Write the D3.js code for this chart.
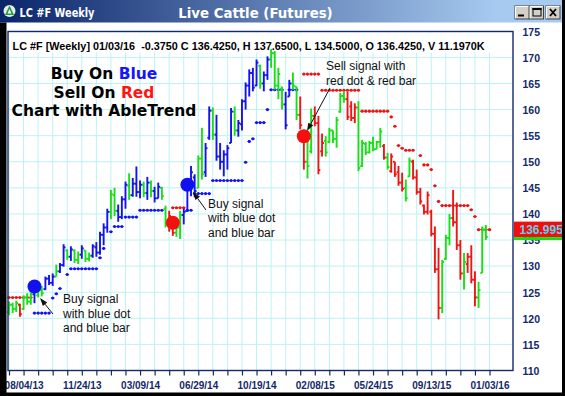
<!DOCTYPE html>
<html><head><meta charset="utf-8">
<script src="https://cdn.jsdelivr.net/npm/d3@7/dist/d3.min.js"></script>
<style>html,body{margin:0;padding:0;background:#fff;overflow:hidden}svg{display:block}</style>
</head><body><svg id="c" width="565" height="396"></svg>
<script>
// ---------------- DATA ----------------
const dateLabels = ["08/04/13","11/24/13","03/09/14","06/29/14","10/19/14","02/08/15","05/24/15","09/13/15","01/03/16"];
const dateLabelIdx = [4,20,36,52,68,84,100,116,132];
const priceTicks = [110,115,120,125,130,135,140,145,150,155,160,165,170,175];
const opens = [121.2,122.6,121.8,122.6,121.8,124.0,123.2,124.6,124.4,125.4,125.6,127.6,126.8,128.0,129.0,130.2,133.0,131.8,133.0,131.2,
132.2,133.0,131.4,132.0,133.6,132.6,136.0,137.4,140.4,143.6,140.6,139.4,142.8,145.4,143.6,145.8,144.2,145.6,144.0,146.0,
144.4,143.0,145.0,141.0,138.0,139.0,136.4,137.4,139.8,140.6,145.0,147.0,145.0,150.6,148.0,154.6,159.8,155.2,151.0,150.0,
151.4,153.6,159.6,156.0,157.2,161.6,164.6,167.0,164.6,168.4,165.0,166.6,169.6,170.8,164.6,164.0,161.0,162.5,165.0,164.4,
159.0,155.2,150.0,152.0,158.8,157.4,152.0,154.0,153.8,156.0,154.4,159.6,162.6,162.0,160.6,158.4,160.4,149.2,153.4,151.8,
153.6,152.4,153.8,153.0,150.8,148.2,150.0,148.0,146.0,145.0,147.2,150.0,147.0,144.2,141.6,140.4,140.4,136.2,129.4,122.0,
131.4,135.4,139.2,138.4,134.0,128.6,130.4,131.8,127.4,124.0,128.7,137.0,136.425];
const highs = [123.2,123.0,123.4,122.8,124.4,124.8,125.0,126.6,125.9,126.2,128.0,128.3,128.6,130.3,130.6,134.2,133.2,133.8,133.2,132.8,
134.0,133.0,132.6,134.2,134.6,136.6,138.2,141.0,144.6,145.0,141.8,143.4,146.2,147.8,146.9,149.1,146.4,146.2,147.1,146.4,
145.2,146.0,145.2,141.6,140.6,139.0,139.0,140.6,141.0,145.6,149.2,147.6,151.2,156.5,153.6,160.6,160.4,159.0,153.6,152.2,
153.2,160.3,160.6,158.0,162.0,165.2,167.7,168.0,169.6,168.6,167.3,170.2,171.6,171.2,168.0,164.4,163.4,165.7,167.1,164.4,
162.5,155.5,154.9,160.2,160.6,158.8,155.4,154.9,156.5,156.0,158.6,163.2,163.4,163.4,161.6,161.2,161.6,154.2,153.8,154.0,
154.8,154.0,156.5,153.4,151.7,151.6,150.0,149.2,147.9,146.6,150.8,150.4,148.5,145.0,141.8,144.3,140.8,137.6,133.5,131.2,
136.0,140.0,144.6,142.2,135.0,132.5,132.5,134.0,129.0,127.0,137.6,137.9,137.65];
const lows = [120.6,121.0,121.2,120.3,121.6,122.6,122.6,122.9,124.0,124.2,125.4,126.4,126.2,128.0,128.7,129.9,131.2,131.0,130.6,130.4,
131.4,130.8,130.9,131.6,131.8,132.2,134.0,136.4,139.0,139.6,138.5,139.0,141.0,142.7,143.3,143.3,143.0,143.2,142.7,143.2,
142.2,143.0,142.7,137.4,136.6,135.8,135.6,135.2,138.0,140.4,143.4,143.2,145.0,146.6,147.1,154.2,154.2,150.2,148.5,147.2,
148.5,153.6,155.0,154.8,156.0,160.0,162.5,163.5,164.5,164.0,163.5,165.7,168.0,163.8,162.0,160.0,156.2,162.5,163.8,158.0,
156.2,148.5,146.8,151.6,156.8,147.6,151.0,151.0,153.6,153.6,152.7,159.4,161.3,158.0,157.8,157.4,148.2,149.0,151.3,151.6,
152.0,152.4,152.7,150.4,148.5,147.9,147.1,145.4,144.3,142.4,147.1,146.6,143.7,141.8,139.9,139.9,135.7,128.7,119.8,121.0,
131.2,134.0,137.6,133.1,127.4,125.5,128.7,126.7,122.3,122.0,128.7,135.0,134.5];
const closes = [122.6,121.8,122.9,120.8,124.0,123.2,124.6,126.2,125.4,124.8,127.6,126.8,128.0,129.0,130.2,133.6,131.8,133.2,131.2,132.2,
133.4,131.4,132.0,133.8,132.6,136.0,137.4,140.4,143.8,140.6,139.4,142.8,145.6,143.6,145.8,144.2,145.6,144.0,146.0,144.4,
143.0,145.2,143.4,138.0,139.6,136.4,137.4,139.8,140.4,145.0,148.0,144.4,150.6,147.6,152.6,159.8,155.2,151.0,150.0,151.4,
152.6,159.6,156.0,157.4,161.6,164.6,167.0,164.2,169.0,165.0,166.6,169.6,170.8,164.6,166.8,161.0,157.0,165.0,164.6,159.0,
157.0,150.0,149.2,158.8,157.4,148.4,153.6,151.8,156.0,154.4,158.0,162.6,162.0,158.6,158.4,160.4,148.8,153.6,151.8,153.6,
152.4,153.8,155.8,150.8,149.0,151.0,147.6,146.0,144.8,143.0,150.2,147.0,144.2,142.4,140.4,143.6,136.2,129.4,122.0,130.8,
135.4,139.2,138.4,134.0,128.6,130.8,131.8,127.4,124.0,125.4,137.0,135.6,136.425];
// trend colour of each bar: B = blue (buy), G = green (neutral), R = red (sell)
const trend = ("GGGRGGGBGGBBBGBBGBGGBGGBBBBBGGBBBGBBBGBGBBGGRRGGBBBBGGBBGBBBBBGBBBBBBGBBGGGGBBGG" +
               "RRGGRRRGGGGGGRRRGGGGGGGRGRRRRGGRRRRRRRRGGGRRRGRRRGGG").split("");
// trailing stop dots: [first bar, last bar, level]
const buyStops = [[7,11,121.0],[12,12,123.9],[13,13,124.7],[14,14,125.7],[16,16,128.4],[17,24,129.5],[25,25,131.6],
  [26,26,133.4],[28,28,136.6],[29,31,137.6],[32,35,139.4],[36,42,140.7],[49,50,140.7],[51,55,143.9],[56,64,146.4],
  [65,65,149.9],[66,66,153.9],[67,67,154.4],[68,70,157.5],[71,71,160.0],[72,75,163.8],[77,79,163.8]];
const sellStops = [[0,6,124.0],[45,48,141.2],[81,85,166.8],[86,96,163.7],[97,104,159.7],[105,105,158.6],[106,106,156.8],
  [107,107,153.1],[108,108,152.6],[109,111,152.2],[113,113,151.2],[114,115,149.4],[116,116,148.5],[117,117,145.4],
  [118,118,142.4],[119,126,141.6],[127,127,140.8],[128,128,139.5],[129,132,136.995]];
const signalIdx = [7,45,49,81];
const signalVal = [126.1,138.3,145.6,154.9];
const signalType = ["B","R","B","R"];
const lastStop = 136.995;
const infoText = "LC #F [Weekly] 01/03/16  -0.3750 C 136.4250, H 137.6500, L 134.5000, O 136.4250, V 11.1970K";
const legendLines = [["Buy On ","Blue"],["Sell On ","Red"],["Chart with AbleTrend",""]];
const notes = [
  {lines:["Buy signal","with blue dot","and blue bar"], x:63, y:303, from:[53,314], to:[40,298]},
  {lines:["Buy signal","with blue dot","and blue bar"], x:208, y:207.5, from:[206,210], to:[193,192]},
  {lines:["Sell signal with","red dot & red bar"], x:326, y:70, from:[330,88], to:[307,131]}
];

// ---------------- DRAW ----------------
const svg = d3.select("#c");
const col = {B:"#1212f2", G:"#16e016", R:"#f21414"};
const navy = "#13296b";
const P = {l:8, r:513, t:31.5, b:370.5};
const x = d3.scaleLinear().domain([0,132]).range([9,489.5]);
const y = d3.scaleLinear().domain([110,175]).range([370.5,31.3]);
const idx = d3.range(opens.length);

svg.append("rect").attr("width",565).attr("height",396).attr("fill","#fff");

// grid
const grid = svg.append("g");
const minorTicks = idx.filter(i => i % 4 === 0);
grid.selectAll("line.v").data(minorTicks).join("line")
  .attr("x1",d=>x(d)).attr("x2",d=>x(d)).attr("y1",P.t).attr("y2",P.b)
  .attr("stroke","#bdf2f4").attr("stroke-width",1);
grid.selectAll("line.h").data(priceTicks).join("line")
  .attr("x1",P.l).attr("x2",P.r).attr("y1",d=>y(d)).attr("y2",d=>y(d))
  .attr("stroke","#bdf2f4").attr("stroke-width",1);

// info box
svg.append("rect").attr("x",P.l+1).attr("y",P.t+1).attr("width",P.r-P.l-2).attr("height",20).attr("fill","#fff");
svg.append("text").attr("x",12.6).attr("y",50.3).text(infoText)
  .attr("font-family","Liberation Sans, Arial, sans-serif").attr("font-weight","bold").attr("font-size",11)
  .attr("textLength",472).attr("lengthAdjust","spacingAndGlyphs").style("white-space","pre").attr("fill","#000");

// legend
const leg = svg.append("g").attr("font-family","DejaVu Sans, Verdana, sans-serif").attr("font-weight","bold")
  .attr("font-size",15.5).attr("text-anchor","middle");
legendLines.forEach((l,k)=>{
  const t = leg.append("text").attr("x",104).attr("y",79+k*18.6).attr("fill","#000");
  t.append("tspan").text(l[0]);
  if (l[1]) t.append("tspan").text(l[1]).attr("fill", k===0 ? "#1414ff" : "#ff1414");
});

// annotations
const ann = svg.append("g").attr("font-family","Liberation Sans, Arial, sans-serif").attr("font-size",12).attr("fill","#111");
notes.forEach(n=>{
  n.lines.forEach((s,k)=>ann.append("text").attr("x",n.x).attr("y",n.y+k*14.6).text(s));
});

// stops: dotted trailing-stop markers
function drawStops(runs, color){
  const pts = [];
  runs.forEach(r=>{ for(let i=r[0];i<=r[1];i++) pts.push([i,r[2]]); });
  const g = svg.append("g").attr("fill",color).attr("stroke",color);
  g.selectAll("line").data(pts).join("line")
    .attr("x1",d=>x(d[0])-1.82).attr("x2",d=>x(d[0])+1.82).attr("y1",d=>y(d[1])).attr("y2",d=>y(d[1]))
    .attr("stroke-width",0.9);
  g.selectAll("circle").data(pts).join("circle")
    .attr("cx",d=>x(d[0])).attr("cy",d=>y(d[1])).attr("r",1.55).attr("stroke","none");
}
drawStops(buyStops, col.B);
drawStops(sellStops, "#f01010");

// OHLC bars
const bars = svg.append("g").attr("stroke-width",1.9);
bars.selectAll("line.hl").data(idx).join("line")
  .attr("x1",i=>x(i)).attr("x2",i=>x(i)).attr("y1",i=>y(highs[i])).attr("y2",i=>y(lows[i]))
  .attr("stroke",i=>col[trend[i]]);
bars.selectAll("line.o").data(idx).join("line").attr("class","o")
  .attr("x1",i=>x(i)-1.9).attr("x2",i=>x(i)).attr("y1",i=>y(opens[i])).attr("y2",i=>y(opens[i]))
  .attr("stroke",i=>col[trend[i]]);
bars.selectAll("line.c").data(idx).join("line").attr("class","c")
  .attr("x1",i=>x(i)).attr("x2",i=>x(i)+1.9).attr("y1",i=>y(closes[i])).attr("y2",i=>y(closes[i]))
  .attr("stroke",i=>col[trend[i]]);

// signal dots
svg.append("g").selectAll("circle").data(signalIdx).join("circle")
  .attr("cx",i=>x(i)).attr("cy",(i,k)=>y(signalVal[k])).attr("r",7)
  .attr("fill",(i,k)=>signalType[k]==="B" ? "#1010f0" : "#f51010");

// arrows
const arr = svg.append("g");
notes.forEach(n=>{
  const [x0,y0]=n.from,[x1,y1]=n.to;
  const a=Math.atan2(y1-y0,x1-x0), L=8, w=2.8;
  const bx=x1-L*Math.cos(a), by=y1-L*Math.sin(a);
  arr.append("line").attr("x1",x0).attr("y1",y0).attr("x2",bx).attr("y2",by).attr("stroke","#111").attr("stroke-width",1);
  arr.append("path").attr("d",`M${x1},${y1}L${bx+w*Math.sin(a)},${by-w*Math.cos(a)}L${bx-w*Math.sin(a)},${by+w*Math.cos(a)}Z`).attr("fill","#111");
});

// plot frame
svg.append("rect").attr("x",P.l).attr("y",P.t).attr("width",P.r-P.l).attr("height",P.b-P.t)
  .attr("fill","none").attr("stroke",navy).attr("stroke-width",1.4);

// x axis
const xMinor = d3.axisBottom(x).tickValues(minorTicks).tickFormat("").tickSize(5).tickSizeOuter(0);
const gx = svg.append("g").attr("transform",`translate(0,${P.b})`).call(xMinor);
gx.select(".domain").remove();
gx.selectAll("line").attr("stroke",navy).attr("stroke-width",1.2);
const xLab = d3.axisBottom(x).tickValues(dateLabelIdx).tickFormat((d,k)=>dateLabels[k]).tickSize(0).tickPadding(0);
const gxl = svg.append("g").attr("transform",`translate(0,381.5)`).call(xLab);
gxl.select(".domain").remove();
gxl.selectAll("text").attr("font-family","Liberation Sans, Arial, sans-serif").attr("font-weight","bold")
  .attr("font-size",10).attr("fill",navy).attr("dy","0.72em");

// y axis (the label under the price box is hidden by the box, as in the original)
const yAx = d3.axisRight(y).tickValues(priceTicks).tickSize(0).tickPadding(0);
const gy = svg.append("g").attr("transform",`translate(522.5,0)`).call(yAx);
gy.select(".domain").remove();
gy.selectAll("text").attr("font-family","Liberation Sans, Arial, sans-serif").attr("font-weight","bold")
  .attr("font-size",10.5).attr("fill",navy).attr("dy","0.36em");

// last stop price label
const ly = y(lastStop);
svg.append("rect").attr("x",514).attr("y",ly-8).attr("width",51).attr("height",15.5).attr("fill","#f40d0d");
svg.append("rect").attr("x",514).attr("y",ly+7.5).attr("width",51).attr("height",3).attr("fill","#10e010");
svg.append("text").attr("x",519.5).attr("y",ly+4.2).text(d3.format(".3f")(lastStop))
  .attr("font-family","Liberation Sans, Arial, sans-serif").attr("font-weight","bold").attr("font-size",12).attr("fill","#58d2ec");

// title bar
const defs = svg.append("defs");
const gr = defs.append("linearGradient").attr("id","tb").attr("x1","0").attr("x2","1").attr("y1","0").attr("y2","0");
gr.append("stop").attr("offset","0").attr("stop-color","#0a246a");
gr.append("stop").attr("offset","0.88").attr("stop-color","#a6caf0");
svg.append("rect").attr("x",0).attr("y",0).attr("width",565).attr("height",22.5).attr("fill","url(#tb)");
svg.append("circle").attr("cx",9.5).attr("cy",11).attr("r",6).attr("fill","#e8ece8");
svg.append("path").attr("d","M9.5,5.5L14,15L5,15Z").attr("fill","#1f9a3a");
svg.append("path").attr("d","M9.5,9L11.5,13.5L7.5,13.5Z").attr("fill","#fff");
svg.append("text").attr("x",19.5).attr("y",17).text("LC #F Weekly")
  .attr("font-family","DejaVu Sans, Verdana, sans-serif").attr("font-weight","bold").attr("font-size",11.5)
  .attr("textLength",75).attr("lengthAdjust","spacingAndGlyphs").attr("fill","#fff");
svg.append("text").attr("x",255.5).attr("y",18.3).attr("text-anchor","middle").text("Live Cattle (Futures)")
  .attr("font-family","DejaVu Sans, Verdana, sans-serif").attr("font-weight","bold").attr("font-size",13.3).attr("fill","#fff");
// window buttons
const btn = svg.append("g");
[[515,"min"],[529.5,"max"],[546,"close"]].forEach(([bx,k])=>{
  btn.append("rect").attr("x",bx).attr("y",6).attr("width",14).attr("height",13).attr("fill","#d4d0c8").attr("stroke","#404040").attr("stroke-width",1);
  btn.append("path").attr("d",`M${bx+0.5},${18.5}V${6.5}H${bx+13.5}`).attr("fill","none").attr("stroke","#fff").attr("stroke-width",1);
  if(k==="min") btn.append("rect").attr("x",bx+3).attr("y",14.5).attr("width",6).attr("height",2).attr("fill","#000");
  if(k==="max"){ btn.append("rect").attr("x",bx+3.5).attr("y",8.5).attr("width",8).attr("height",7.5).attr("fill","none").attr("stroke","#000").attr("stroke-width",1);
                 btn.append("rect").attr("x",bx+3).attr("y",8).attr("width",9).attr("height",2).attr("fill","#000"); }
  if(k==="close") btn.append("path").attr("d",`M${bx+4},${9}L${bx+10},${16}M${bx+10},${9}L${bx+4},${16}`).attr("stroke","#000").attr("stroke-width",1.8);
});

// window frame
svg.append("rect").attr("x",0).attr("y",22.5).attr("width",6.5).attr("height",374).attr("fill","#000");
svg.append("rect").attr("x",562).attr("y",0).attr("width",3).attr("height",396).attr("fill","#000");
svg.append("rect").attr("x",0).attr("y",392.5).attr("width",565).attr("height",4).attr("fill","#000");
</script></body></html>
